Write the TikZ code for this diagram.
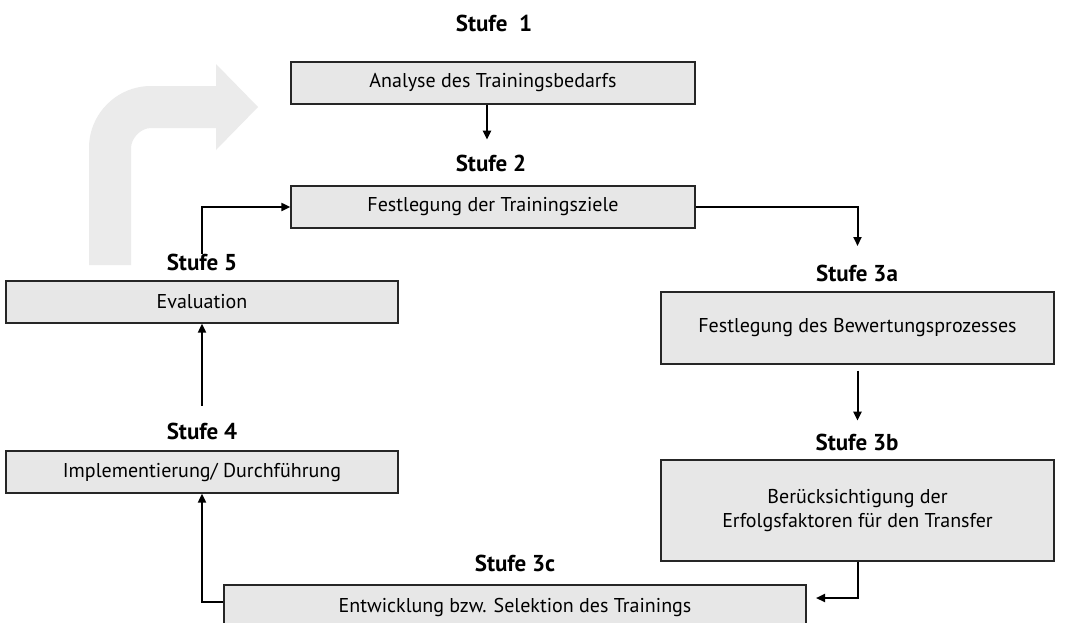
\documentclass[tikz,border=0pt]{standalone}
\usepackage{fontspec}
\setmainfont{PT Sans}
\usetikzlibrary{arrows.meta}
\definecolor{boxfill}{HTML}{E7E7E7}
\definecolor{bigarrow}{HTML}{EBEBEB}
\tikzset{
  stepbox/.style={draw=black!85, line width=1.3pt, fill=boxfill, inner sep=0pt,
    align=center, font=\fontsize{20}{24}\selectfont},
  stagelabel/.style={font=\bfseries\fontsize{23}{26}\selectfont, inner sep=0pt},
  flow/.style={line width=2pt, -{Triangle[length=9pt,width=8pt]}},
}
\begin{document}
\begin{tikzpicture}[x=1pt,y=-1pt]
\clip (0,0) rectangle (1068,622);
\fill[white] (0,0) rectangle (1068,622);

% wide grey bent arrow in the back
\fill[bigarrow] (89,265) -- (89,148) .. controls (89,113.8) and (116.8,86) .. (151,86)
  -- (216,86) -- (216,64) -- (258,107) -- (216,150) -- (216,128) -- (151,128)
  .. controls (140,128) and (131,139) .. (131,148) -- (131,265) -- cycle;

% stage labels
\node[stagelabel] (l1) at (494,23) {Stufe\ \ 1};
\node[stagelabel] (l2) at (491,163) {Stufe 2};
\node[stagelabel] (l3a) at (857,273) {Stufe 3a};
\node[stagelabel] (l3b) at (857,442) {Stufe 3b};
\node[stagelabel] (l3c) at (515,563) {Stufe 3c};
\node[stagelabel] (l4) at (202,431) {Stufe 4};
\node[stagelabel] (l5) at (202,262) {Stufe 5};

% stage boxes
\node[stepbox, minimum width=404pt, minimum height=42pt] (s1) at (493,83) {Analyse des Trainingsbedarfs};
\node[stepbox, minimum width=404pt, minimum height=42pt] (s2) at (493,207) {Festlegung der Trainingsziele};
\node[stepbox, minimum width=393pt, minimum height=72pt] (s3a) at (857.5,328) {Festlegung des Bewertungsprozesses};
\node[stepbox, minimum width=393pt, minimum height=101pt] (s3b) at (857.5,510.5) {Berücksichtigung der\\Erfolgsfaktoren für den Transfer};
\node[stepbox, minimum width=582pt, minimum height=44pt] (s3c) at (515,607) {Entwicklung bzw. Selektion des Trainings};
\node[stepbox, minimum width=392pt, minimum height=42pt] (s4) at (202,472) {Implementierung/ Durchführung};
\node[stepbox, minimum width=392pt, minimum height=42pt] (s5) at (202,302) {Evaluation};

% connectors
\coordinate (e3c) at (816,598);
\draw[flow] ([xshift=-6pt]s1.south) -- ([xshift=-6pt,yshift=-35pt]s1.south);
\draw[flow] (s2.east) -| ([yshift=-39pt]s2.east -| s3a.north);
\draw[flow] ([yshift=-6pt]s3a.south) -- ([yshift=-56pt]s3a.south);
\draw[flow] (s3b.south) |- (e3c);
\draw[flow] ([yshift=5pt]s3c.west) -| (s4.south);
\draw[flow] ([yshift=-82pt]s5.south) -- (s5.south);
\draw[flow] ([yshift=-47pt]s2.west -| s5.north) |- (s2.west);
\end{tikzpicture}
\end{document}
